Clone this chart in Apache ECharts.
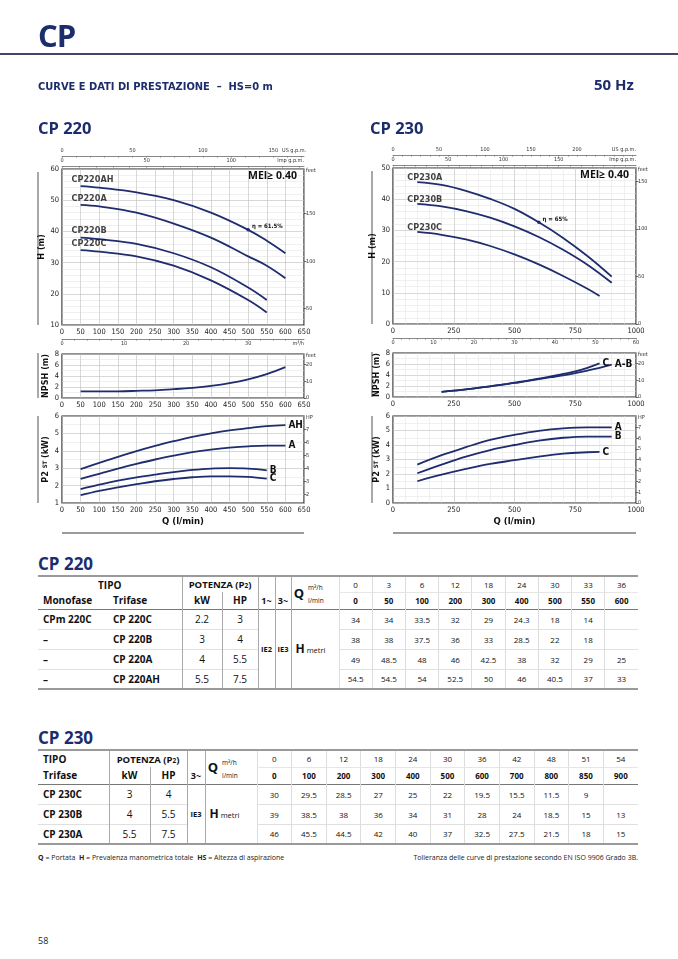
<!DOCTYPE html>
<html><head><meta charset="utf-8">
<script src="https://cdn.jsdelivr.net/npm/echarts@6/dist/echarts.min.js"></script>
<style>
body{margin:0;width:678px;height:959px;position:relative;background:#fff;font-family:'Open Sans',sans-serif;overflow:hidden;color:#111}
.abs{position:absolute;white-space:nowrap}
.nv{color:#1c2c6c}
.narrow{font-family:'Liberation Sans Narrow','DejaVu Sans Condensed','Open Sans',sans-serif}
table.t{position:absolute;border-collapse:collapse;table-layout:fixed;font-family:'Open Sans',sans-serif;color:#111;border-top:2px solid #9a9a9a;border-bottom:2px solid #9a9a9a}
table.t td{padding:0;text-align:center;vertical-align:middle;overflow:hidden;white-space:nowrap;font-size:8px}
table.t tr.hb{border-bottom:1.5px solid #777}
table.t tr.dr{border-bottom:1px solid #e0e0e0}
.b{font-weight:bold}
.s{font-size:6.5px}
</style></head><body>
<div id="chart" class="abs" style="left:0;top:0;width:678px;height:545px"></div>

<div class="abs nv" style="left:38px;top:14px;font-size:31px;font-weight:bold;letter-spacing:-1px">CP</div>
<div class="abs" style="left:0;top:53px;width:678px;height:2px;background:#3c4868"></div>
<div class="abs nv narrow" style="left:38px;top:80px;font-size:11px;font-weight:bold">CURVE E DATI DI PRESTAZIONE &nbsp;–&nbsp; HS=0 m</div>
<div class="abs nv" style="left:594px;top:74px;font-size:15px;font-weight:bold">50 Hz</div>
<div class="abs nv" style="left:38px;top:116px;font-size:16.5px;font-weight:bold">CP 220</div>
<div class="abs nv" style="left:370px;top:116px;font-size:16.5px;font-weight:bold">CP 230</div>

<div class="abs nv" style="left:38px;top:552px;font-size:17px;font-weight:bold">CP 220</div>
<table class="t" id="t220" style="left:38px;top:575px;width:600px"></table>
<div class="abs nv" style="left:38px;top:726px;font-size:17px;font-weight:bold">CP 230</div>
<table class="t" id="t230" style="left:38px;top:749px;width:600px"></table>

<div class="abs" style="left:38px;top:853px;font-size:7px;color:#222"><b>Q</b> = Portata &nbsp;<b>H</b> = Prevalenza manometrica totale &nbsp;<b>HS</b> = Altezza di aspirazione</div>
<div class="abs" style="right:40px;top:853px;font-size:7px;color:#222">Tolleranza delle curve di prestazione secondo EN ISO 9906 Grado 3B.</div>
<div class="abs" style="left:38px;top:934px;font-size:9px;color:#222">58</div>

<script>
// ---------------- DATA ----------------
// CP 220 table
const t220Qm3h = [0, 3, 6, 12, 18, 24, 30, 33, 36];
const t220Qlmin = [0, 50, 100, 200, 300, 400, 500, 550, 600];
const t220Mono = ['CPm 220C', '–', '–', '–'];
const t220Tri = ['CP 220C', 'CP 220B', 'CP 220A', 'CP 220AH'];
const t220kW = ['2.2', '3', '4', '5.5'];
const t220HP = ['3', '4', '5.5', '7.5'];
const h220C = [34, 34, 33.5, 32, 29, 24.3, 18, 14, null];
const h220B = [38, 38, 37.5, 36, 33, 28.5, 22, 18, null];
const h220A = [49, 48.5, 48, 46, 42.5, 38, 32, 29, 25];
const h220AH = [54.5, 54.5, 54, 52.5, 50, 46, 40.5, 37, 33];
// CP 220 NPSH / P2 curves (Q step 50 from 50)
const q220c = [50, 100, 150, 200, 250, 300, 350, 400, 450, 500, 550, 600];
const npsh220 = [1.2, 1.2, 1.22, 1.3, 1.4, 1.6, 1.85, 2.2, 2.7, 3.4, 4.35, 5.6];
const p220AH = [2.95, 3.3, 3.65, 3.98, 4.28, 4.55, 4.8, 5.0, 5.17, 5.3, 5.42, 5.48];
const p220A = [2.38, 2.68, 2.98, 3.25, 3.5, 3.72, 3.92, 4.07, 4.18, 4.26, 4.3, 4.3];
const p220B = [1.8, 2.05, 2.28, 2.47, 2.63, 2.78, 2.9, 2.98, 3.0, 2.98, 2.88, null];
const p220C = [1.45, 1.7, 1.9, 2.08, 2.25, 2.38, 2.48, 2.53, 2.53, 2.5, 2.4, null];

// CP 230 table
const t230Qm3h = [0, 6, 12, 18, 24, 30, 36, 42, 48, 51, 54];
const t230Qlmin = [0, 100, 200, 300, 400, 500, 600, 700, 800, 850, 900];
const t230Tri = ['CP 230C', 'CP 230B', 'CP 230A'];
const t230kW = ['3', '4', '5.5'];
const t230HP = ['4', '5.5', '7.5'];
const h230C = [30, 29.5, 28.5, 27, 25, 22, 19.5, 15.5, 11.5, 9, null];
const h230B = [39, 38.5, 38, 36, 34, 31, 28, 24, 18.5, 15, 13];
const h230A = [46, 45.5, 44.5, 42, 40, 37, 32.5, 27.5, 21.5, 18, 15];
// CP 230 H curves as drawn in the chart
const qh230 = [100, 200, 300, 400, 500, 600, 700, 800, 900];
const hc230A = [45.5, 44.6, 42.7, 40.1, 36.9, 32.6, 27.6, 21.8, 15.2];
const hc230B = [38.5, 37.7, 36.2, 34.1, 31.3, 27.9, 23.8, 19.0, 13.2];
const qh230C = [100, 200, 300, 400, 500, 600, 700, 800, 850];
const hc230C = [29.5, 28.6, 27.1, 25.0, 22.3, 19.1, 15.4, 11.3, 9.0];
// CP 230 NPSH (Q step 50 from 200)
const qn230 = [200, 250, 300, 350, 400, 450, 500, 550, 600, 650, 700, 750, 800, 850, 900];
const npsh230AB = [0.95, 1.15, 1.4, 1.65, 1.95, 2.25, 2.55, 2.9, 3.25, 3.6, 3.95, 4.35, 4.8, 5.3, 5.9];
const npsh230C = [0.95, 1.15, 1.4, 1.65, 1.95, 2.25, 2.6, 2.95, 3.35, 3.75, 4.2, 4.65, 5.3, 6.1, null];
// CP 230 P2
const qp230 = [100, 200, 300, 400, 500, 600, 700, 800, 900];
const p230A = [2.65, 3.3, 3.85, 4.35, 4.7, 4.98, 5.15, 5.22, 5.22];
const p230B = [2.05, 2.65, 3.2, 3.65, 4.0, 4.3, 4.5, 4.58, 4.58];
const qp230C = [100, 200, 300, 400, 500, 600, 700, 800, 850];
const p230C = [1.5, 1.95, 2.35, 2.7, 2.95, 3.2, 3.4, 3.5, 3.52];

// tick labels
const usLabels220 = [0, 50, 100, 150], impLabels220 = [0, 50, 100], m3Labels220 = [0, 10, 20, 30];
const ftLabels220 = [50, 100, 150], ftN220 = [0, 10, 20], hpLabels220 = [2, 3, 4, 5, 6, 7];
const usLabels230 = [0, 50, 100, 150, 200], impLabels230 = [0, 50, 100, 150], m3Labels230 = [0, 10, 20, 30, 40, 50, 60];
const ftLabels230 = [0, 50, 100, 150], ftN230 = [0, 10, 20], hpLabels230 = [0, 1, 2, 3, 4, 5, 6, 7];

// ---------------- TABLES ----------------
const VB = 'border-left:1px solid #aaa;';
const VL = 'border-left:1px solid #ddd;';
function td(c, st, at) { return '<td ' + (at || '') + ' style="' + (st || '') + '">' + (c == null ? '' : c) + '</td>'; }
function colg(ws) { return '<colgroup>' + ws.map(w => '<col style="width:' + w + 'px">').join('') + '</colgroup>'; }
const NAME = 'font-weight:bold;font-size:10px;text-align:left;padding-left:5px;';
(function () {
  let h = colg([70, 74, 40, 36, 17, 16, 14, 34].concat(t220Qlmin.map(() => 299 / 9)));
  h += '<tr style="height:16px">' + td('TIPO', 'font-weight:bold;font-size:10px', 'colspan="2"') +
    td('POTENZA (P<span class="s">2</span>)', VB + 'font-weight:bold;font-size:9.5px', 'colspan="2"') +
    td('', VB) + td('', VB) + td('Q', VB + 'font-weight:bold;font-size:13px;text-align:right;padding-right:1px', 'rowspan="2"') +
    td('m³/h', 'font-size:6.5px;text-align:left;padding-left:3px;vertical-align:bottom') +
    t220Qm3h.map(v => td(v, VL + 'border-bottom:1px solid #e6e6e6')).join('') + '</tr>';
  h += '<tr class="hb" style="height:17px">' + td('Monofase', NAME) + td('Trifase', NAME) +
    td('kW', VB + 'font-weight:bold;font-size:10px') + td('HP', VB + 'font-weight:bold;font-size:10px') +
    td('1~', VB + 'font-weight:bold;font-size:9px') + td('3~', VB + 'font-weight:bold;font-size:9px') +
    td('l/min', 'font-size:6.5px;text-align:left;padding-left:3px') +
    t220Qlmin.map(v => td(v, VL + 'font-weight:bold')).join('') + '</tr>';
  const hs = [h220C, h220B, h220A, h220AH];
  for (let i = 0; i < 4; i++) {
    h += '<tr class="dr" style="height:20px">' + td(t220Mono[i], NAME) + td(t220Tri[i], NAME) +
      td(t220kW[i], VB + 'font-size:10px') + td(t220HP[i], VB + 'font-size:10px');
    if (i === 0) h += td('IE2', VB + 'font-weight:bold;font-size:7.5px', 'rowspan="4"') + td('IE3', VB + 'font-weight:bold;font-size:7.5px', 'rowspan="4"') +
      td('<b style="font-size:12px">H</b> metri', VB + 'text-align:left;padding-left:4px;font-size:7.5px', 'rowspan="4" colspan="2"');
    h += hs[i].map(v => td(v, VL)).join('') + '</tr>';
  }
  document.getElementById('t220').innerHTML = h;

  let k = colg([71, 41, 37, 18, 14, 38].concat(t230Qlmin.map(() => 381 / 11)));
  k += '<tr style="height:17px">' + td('TIPO', NAME) +
    td('POTENZA (P<span class="s">2</span>)', VB + 'font-weight:bold;font-size:9.5px', 'colspan="2"') +
    td('', VB) + td('Q', VB + 'font-weight:bold;font-size:13px;text-align:right;padding-right:1px', 'rowspan="2"') +
    td('m³/h', 'font-size:6.5px;text-align:left;padding-left:3px;vertical-align:bottom') +
    t230Qm3h.map(v => td(v, VL + 'border-bottom:1px solid #e6e6e6')).join('') + '</tr>';
  k += '<tr class="hb" style="height:17px">' + td('Trifase', NAME) +
    td('kW', VB + 'font-weight:bold;font-size:10px') + td('HP', VB + 'font-weight:bold;font-size:10px') +
    td('3~', VB + 'font-weight:bold;font-size:9px') +
    td('l/min', 'font-size:6.5px;text-align:left;padding-left:3px') +
    t230Qlmin.map(v => td(v, VL + 'font-weight:bold')).join('') + '</tr>';
  const hk = [h230C, h230B, h230A];
  for (let i = 0; i < 3; i++) {
    k += '<tr class="dr" style="height:20px">' + td(t230Tri[i], NAME) +
      td(t230kW[i], VB + 'font-size:10px') + td(t230HP[i], VB + 'font-size:10px');
    if (i === 0) k += td('IE3', VB + 'font-weight:bold;font-size:7.5px', 'rowspan="3"') +
      td('<b style="font-size:12px">H</b> metri', VB + 'text-align:left;padding-left:4px;font-size:7.5px', 'rowspan="3" colspan="2"');
    k += hk[i].map(v => td(v, VL)).join('') + '</tr>';
  }
  document.getElementById('t230').innerHTML = k;
})();

// ---------------- CHARTS ----------------
const FN = "'Liberation Sans Narrow','DejaVu Sans Condensed','Open Sans',sans-serif";
const NAVY = '#1f2c6e';
const FT = 3.28084, HPK = 1.34102, USG = 3.78541, IMPG = 4.54609;
function steps(max, st) { const a = []; for (let v = 0; v <= max + 1e-9; v += st) a.push(v); return a; }
function pairs(qs, vs) { const out = []; qs.forEach((q, i) => { if (vs[i] != null) out.push([q, vs[i]]); }); return out; }

const panels = [
  { left: 62, width: 242, qmax: 650, qint: 50, minorX: 0, hTop: 169, hMin: 10, hMax: 60, nTop: 354, pTop: 416, pMin: 1,
    us: usLabels220, imp: impLabels220, m3: m3Labels220, ft: ftLabels220, ftN: ftN220, hp: hpLabels220, m3Name: 'm³/h', labPos: [-9, -11], deco: 38,
    H: [['CP220AH', t220Qlmin.slice(1), h220AH.slice(1)], ['CP220A', t220Qlmin.slice(1), h220A.slice(1)],
        ['CP220B', t220Qlmin.slice(1), h220B.slice(1)], ['CP220C', t220Qlmin.slice(1), h220C.slice(1)]],
    eta: { curve: 0, q: 500, text: 'η = 61.5%' },
    N: [[null, q220c, npsh220]],
    P: [['AH', q220c, p220AH], ['A', q220c, p220A], ['B', q220c, p220B], ['C', q220c, p220C]] },
  { left: 393, width: 243, qmax: 1000, qint: 250, minorX: 5, hTop: 168, hMin: 0, hMax: 50, nTop: 353, pTop: 416, pMin: 0,
    us: usLabels230, imp: impLabels230, m3: m3Labels230, ft: ftLabels230, ftN: ftN230, hp: hpLabels230, m3Name: '', labPos: [-10, -9], deco: 372,
    H: [['CP230A', qh230, hc230A], ['CP230B', qh230, hc230B], ['CP230C', qh230C, hc230C]],
    eta: { curve: 0, q: 600, text: 'η = 65%' },
    N: [['C', qn230, npsh230C], ['A-B', qn230, npsh230AB]],
    P: [['A', qp230, p230A], ['B', qp230, p230B], ['C', qp230C, p230C]] }
];

const grid = [], xAxis = [], yAxis = [], series = [], graphic = [];
const addX = c => (xAxis.push(c), xAxis.length - 1);
const addY = c => (yAxis.push(c), yAxis.length - 1);
const plain = v => String(v);

panels.forEach(P => {
  const mk = (top, h) => { grid.push({ left: P.left, top, width: P.width, height: h, show: true, borderColor: '#222', borderWidth: 1.2, backgroundColor: 'rgba(0,0,0,0)' }); return grid.length - 1; };
  const gH = mk(P.hTop, 156), gN = mk(P.nTop, 44), gP = mk(P.pTop, 87);
  const mainX = (g, extra) => addX(Object.assign({
    gridIndex: g, type: 'value', min: 0, max: P.qmax, interval: P.qint, position: 'bottom',
    axisLine: { show: false, onZero: false }, axisTick: { show: false },
    axisLabel: { fontSize: 7.5, color: '#222', margin: 3, fontFamily: FN, formatter: plain },
    splitLine: { show: true, lineStyle: { color: '#bdbdbd', width: 0.6 } },
    minorTick: { show: false, splitNumber: P.minorX || 5 },
    minorSplitLine: { show: P.minorX > 0, lineStyle: { color: '#e0e0e0', width: 0.5 } }
  }, extra || {}));
  const secX = (g, pos, offset, max, labels, st, name) => addX({
    gridIndex: g, type: 'value', position: pos, offset, min: 0, max,
    axisLine: { show: true, onZero: false, lineStyle: { color: '#555', width: 0.7 } },
    axisTick: { show: true, customValues: steps(max, st), length: 1.8, inside: pos === 'top', lineStyle: { color: '#666', width: 0.5 } },
    axisLabel: { customValues: labels, fontSize: 5.5, margin: 2, color: '#333', fontFamily: FN, formatter: plain },
    splitLine: { show: false },
    name, nameLocation: 'end', nameGap: 0,
    nameTextStyle: { fontSize: 5.5, color: '#333', fontFamily: FN, align: 'right', verticalAlign: pos === 'top' ? 'bottom' : 'top', padding: pos === 'top' ? [0, 0, 2, 0] : [2, 0, 0, 0] }
  });
  const leftY = (g, min, max, interval, minor, name, nameGap) => addY({
    gridIndex: g, type: 'value', min, max, interval, position: 'left',
    axisLine: { show: false, onZero: false }, axisTick: { show: false },
    axisLabel: { fontSize: 7.5, margin: 3, color: '#222', fontFamily: FN },
    splitLine: { show: true, lineStyle: { color: '#bdbdbd', width: 0.6 } },
    minorTick: { show: false, splitNumber: minor },
    minorSplitLine: { show: true, lineStyle: { color: '#e0e0e0', width: 0.5 } },
    name, nameLocation: 'middle', nameGap,
    nameTextStyle: { fontSize: 9, fontWeight: 'bold', fontFamily: FN, color: '#111', rich: { s: { fontSize: 6, fontWeight: 'bold', fontFamily: FN, color: '#111' } } }
  });
  const rightY = (g, lo, hi, labels, unit, top) => {
    graphic.push({ type: 'text', left: P.left + P.width + 2, top: top - 1, silent: true,
      style: { text: unit, fontSize: 5.5, fill: '#333', fontFamily: FN } });
    return addY({
      gridIndex: g, type: 'value', position: 'right', min: lo, max: hi,
      axisLine: { show: false, onZero: false },
      axisTick: { show: true, customValues: labels, length: 2.5, lineStyle: { color: '#333', width: 0.7 } },
      axisLabel: { customValues: labels, fontSize: 5.5, margin: 2, color: '#333', fontFamily: FN },
      splitLine: { show: false }
    });
  };
  const line = (xi, yi, qs, vs, endText) => {
    const s = { type: 'line', xAxisIndex: xi, yAxisIndex: yi, data: pairs(qs, vs), smooth: 0.4, symbol: 'none', showSymbol: false,
      lineStyle: { color: NAVY, width: 1.8 }, silent: true, z: 5 };
    if (endText) s.endLabel = { show: true, formatter: endText, fontSize: 10, fontWeight: 'bold', color: '#111', fontFamily: FN, distance: 3 };
    series.push(s); return s;
  };

  // H chart
  const xH = mainX(gH);
  secX(gH, 'top', 13, P.qmax / USG, P.us, 10, 'US g.p.m.');
  secX(gH, 'top', 3, P.qmax / IMPG, P.imp, 10, 'Imp g.p.m.');
  secX(gH, 'bottom', 14, P.qmax * 0.06, P.m3, 2, P.m3Name);
  const yH = leftY(gH, P.hMin, P.hMax, 10, 5, 'H (m)', 12);
  rightY(gH, P.hMin * FT, P.hMax * FT, P.ft, 'feet', P.hTop);
  P.H.forEach(([nm, qs, vs], ci) => {
    const d = pairs(qs, vs);
    const s = line(xH, yH, qs, vs, null);
    series.push({ type: 'scatter', xAxisIndex: xH, yAxisIndex: yH, symbolSize: 0, silent: true, z: 6, data: [d[0]],
      label: { show: true, formatter: nm, position: P.labPos, fontSize: 9, fontWeight: 'bold', color: '#111', fontFamily: FN } });
    if (ci === P.eta.curve) {
      const idx = qs.indexOf(P.eta.q);
      s.markPoint = { symbol: 'circle', symbolSize: 3.5, silent: true, itemStyle: { color: NAVY },
        label: { show: true, position: 'right', distance: 2, offset: [0, -3], formatter: P.eta.text, fontSize: 6, fontWeight: 'bold', color: '#111', fontFamily: FN },
        data: [{ coord: [qs[idx], vs[idx]] }] };
    }
  });
  // NPSH chart
  const xN = mainX(gN);
  const yN = leftY(gN, 0, 8, 2, 2, 'NPSH (m)', 12);
  rightY(gN, 0, 8 * FT, P.ftN, 'feet', P.nTop);
  P.N.forEach(([nm, qs, vs]) => line(xN, yN, qs, vs, nm));
  // P2 chart
  const xP = mainX(gP, { name: 'Q (l/min)', nameLocation: 'middle', nameGap: 14,
    nameTextStyle: { fontSize: 9.5, fontWeight: 'bold', color: '#111', fontFamily: FN } });
  const yP = leftY(gP, P.pMin, 6, 1, 2, 'P2 {s|ST} (kW)', 12);
  rightY(gP, P.pMin * HPK, 6 * HPK, P.hp, 'HP', P.pTop);
  P.P.forEach(([nm, qs, vs]) => line(xP, yP, qs, vs, nm));

  // decorations
  const deco = (y1, y2) => graphic.push({ type: 'line', shape: { x1: P.deco, y1, x2: P.deco, y2 }, style: { stroke: '#7a7a7a', lineWidth: 1.3 }, silent: true });
  deco(P.hTop + 3, P.hTop + 156); deco(P.nTop - 1, P.nTop + 44); deco(P.pTop, P.pTop + 87);
  graphic.push({ type: 'line', shape: { x1: P.left, y1: 533, x2: P.left + P.width, y2: 533 }, style: { stroke: '#7a7a7a', lineWidth: 1.3 }, silent: true });
  graphic.push({ type: 'text', right: 678 - (P.left + P.width - 7), top: P.hTop + 2, silent: true, z: 10,
    style: { text: 'MEI≥ 0.40', fontSize: 10.5, fontWeight: 'bold', fill: '#111', fontFamily: "'Open Sans',sans-serif" } });
});

const chart = echarts.init(document.getElementById('chart'), null, { renderer: 'canvas' });
chart.setOption({ animation: false, backgroundColor: 'rgba(0,0,0,0)', grid, xAxis, yAxis, series, graphic });
</script>
</body></html>
